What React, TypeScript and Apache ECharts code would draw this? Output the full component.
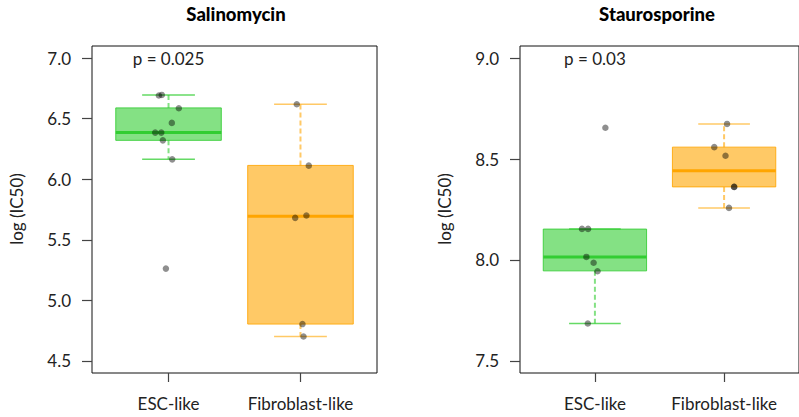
import React, { useEffect, useRef } from "react";
import * as echarts from "echarts";

// ---------- data ----------
const groups = ["ESC-like", "Fibroblast-like"];
const panelTitles = ["Salinomycin", "Staurosporine"];
const pLabels = ["p = 0.025", "p = 0.03"];
const yAxisName = "log (IC50)";

const salTicks = [4.5, 5.0, 5.5, 6.0, 6.5, 7.0];
const stauTicks = [7.5, 8.0, 8.5, 9.0];

// box stats: [lower whisker, Q1, median, Q3, upper whisker]
const salEscBox = [6.164, 6.321, 6.385, 6.589, 6.696];
const salFibBox = [4.701, 4.804, 5.695, 6.114, 6.619];
const stauEscBox = [7.685, 7.946, 8.015, 8.153, 8.153];
const stauFibBox = [8.258, 8.362, 8.442, 8.559, 8.674];

// individual observations (log IC50) and their jittered group positions
const salEscVals = [6.691, 6.696, 6.586, 6.465, 6.385, 6.385, 6.321, 6.164, 5.262];
const salEscJit = [0.927, 0.949, 1.078, 1.025, 0.899, 0.945, 0.957, 1.028, 0.98];
const salFibVals = [6.619, 6.112, 5.681, 5.7, 4.804, 4.701];
const salFibJit = [1.972, 2.063, 1.96, 2.045, 2.015, 2.023];
const stauEscVals = [8.154, 8.154, 8.015, 7.986, 7.944, 7.685, 8.655];
const stauEscJit = [0.9, 0.947, 0.934, 0.99, 1.02, 0.945, 1.081];
const stauFibVals = [8.674, 8.559, 8.516, 8.362, 8.362, 8.258];
const stauFibJit = [2.023, 1.924, 2.011, 2.079, 2.077, 2.038];

// ---------- styles ----------
const FONT = "Lato, 'Open Sans', sans-serif";
const boxColors = [
  { fill: "rgba(50,205,50,0.6)", stroke: "rgba(50,205,50,0.85)", med: "#32CD32", whisk: "rgba(50,205,50,0.6)", cap: "rgba(50,205,50,0.75)" },
  { fill: "rgba(255,165,0,0.6)", stroke: "rgba(255,165,0,0.85)", med: "#FFA500", whisk: "rgba(255,165,0,0.6)", cap: "rgba(255,165,0,0.6)" },
];

const grids = [
  { left: 92, top: 46, width: 285, height: 327 },
  { left: 520, top: 46, width: 285, height: 327 },
];

function boxRender(params: any, api: any) {
  const x = api.value(0);
  const lo = api.value(1), q1 = api.value(2), med = api.value(3), q3 = api.value(4), hi = api.value(5);
  const c = boxColors[params.dataIndex];
  const halfW = api.size([0.8, 0])[0] / 2;
  const capHalf = api.size([0.4, 0])[0] / 2;
  const pLo = api.coord([x, lo]);
  const pQ1 = api.coord([x, q1]);
  const pMed = api.coord([x, med]);
  const pQ3 = api.coord([x, q3]);
  const pHi = api.coord([x, hi]);
  const cx = pMed[0];
  return {
    type: "group",
    children: [
      { type: "line", shape: { x1: cx, y1: pQ3[1], x2: cx, y2: pHi[1] }, style: { stroke: c.whisk, lineWidth: 2, lineDash: [5, 3] } },
      { type: "line", shape: { x1: cx, y1: pQ1[1], x2: cx, y2: pLo[1] }, style: { stroke: c.whisk, lineWidth: 2, lineDash: [5, 3] } },
      { type: "line", shape: { x1: cx - capHalf, y1: pHi[1], x2: cx + capHalf, y2: pHi[1] }, style: { stroke: c.cap, lineWidth: 1.5 } },
      { type: "line", shape: { x1: cx - capHalf, y1: pLo[1], x2: cx + capHalf, y2: pLo[1] }, style: { stroke: c.cap, lineWidth: 1.5 } },
      { type: "rect", shape: { x: cx - halfW, y: pQ3[1], width: halfW * 2, height: pQ1[1] - pQ3[1] }, style: { fill: c.fill, stroke: c.stroke, lineWidth: 1 } },
      { type: "line", shape: { x1: cx - halfW, y1: pMed[1], x2: cx + halfW, y2: pMed[1] }, style: { stroke: c.med, lineWidth: 3 } },
    ],
  };
}

function pRender(params: any, api: any) {
  const p = api.coord([api.value(0), api.value(1)]);
  return {
    type: "text",
    x: p[0],
    y: p[1],
    style: { text: pLabels[params.seriesIndex === 1 ? 0 : 1], align: "center", verticalAlign: "middle", fontSize: 17, fontFamily: FONT, fill: "#222" },
  };
}

export default function App() {
  const ref = useRef<HTMLDivElement>(null);
  useEffect(() => {
    document.body.style.margin = "0";
    const chart = echarts.init(ref.current!, null, { renderer: "svg" });
    const tickLabelStyle = { fontSize: 17, fontFamily: FONT, color: "#222" };
    const xAxis = [0, 1].map((i) => ({
      type: "value",
      gridIndex: i,
      min: 0.42,
      max: 2.58,
      axisLine: { show: false, onZero: false },
      splitLine: { show: false },
      axisTick: { show: true, length: 9, customValues: [1, 2], lineStyle: { color: "#444", width: 1.2 } },
      axisLabel: { ...tickLabelStyle, margin: 22, customValues: [1, 2], formatter: (v: number) => groups[Math.round(v) - 1] },
    }));
    const yAxis = [
      { min: 4.4, max: 7.1, ticks: salTicks },
      { min: 7.44, max: 9.06, ticks: stauTicks },
    ].map((a, i) => ({
      type: "value",
      gridIndex: i,
      min: a.min,
      max: a.max,
      axisLine: { show: false, onZero: false },
      splitLine: { show: false },
      axisTick: { show: true, length: 10, customValues: a.ticks, lineStyle: { color: "#444", width: 1.2 } },
      axisLabel: { ...tickLabelStyle, margin: 21, customValues: a.ticks, formatter: (v: number) => v.toFixed(1) },
    }));

    const scatter = (gi: number, jit: number[], vals: number[]) => ({
      type: "scatter",
      xAxisIndex: gi,
      yAxisIndex: gi,
      symbolSize: 6.5,
      itemStyle: { color: "rgba(0,0,0,0.55)" },
      data: vals.map((v, k) => [jit[k], v]),
      z: 5,
    });

    const titleStyle = { align: "center", verticalAlign: "middle", fontSize: 18.5, fontWeight: 900, fontFamily: FONT, fill: "#000" };
    const nameStyle = { text: yAxisName, align: "center", verticalAlign: "middle", fontSize: 17, fontFamily: FONT, fill: "#222" };

    chart.setOption({
      animation: false,
      grid: grids.map((g) => ({ ...g, show: true, borderColor: "#111", borderWidth: 1, backgroundColor: "transparent" })),
      xAxis,
      yAxis,
      graphic: [
        { type: "text", x: 236, y: 14, style: { ...titleStyle, text: panelTitles[0] } },
        { type: "text", x: 657, y: 14, style: { ...titleStyle, text: panelTitles[1] } },
        { type: "text", x: 16, y: 209, rotation: Math.PI / 2, style: nameStyle },
        { type: "text", x: 444, y: 209, rotation: Math.PI / 2, style: nameStyle },
      ],
      series: [
        {
          type: "custom",
          xAxisIndex: 0,
          yAxisIndex: 0,
          renderItem: boxRender,
          encode: { x: 0, y: [1, 2, 3, 4, 5] },
          data: [[1, ...salEscBox], [2, ...salFibBox]],
        },
        {
          type: "custom",
          xAxisIndex: 0,
          yAxisIndex: 0,
          renderItem: pRender,
          data: [[1, salTicks[salTicks.length - 1]]],
        },
        {
          type: "custom",
          xAxisIndex: 1,
          yAxisIndex: 1,
          renderItem: boxRender,
          encode: { x: 0, y: [1, 2, 3, 4, 5] },
          data: [[1, ...stauEscBox], [2, ...stauFibBox]],
        },
        {
          type: "custom",
          xAxisIndex: 1,
          yAxisIndex: 1,
          renderItem: pRender,
          data: [[1, stauTicks[stauTicks.length - 1]]],
        },
        scatter(0, salEscJit, salEscVals),
        scatter(0, salFibJit, salFibVals),
        scatter(1, stauEscJit, stauEscVals),
        scatter(1, stauFibJit, stauFibVals),
      ],
    });
    return () => chart.dispose();
  }, []);
  return <div ref={ref} style={{ position: "absolute", left: 0, top: 0, width: 799, height: 417 }} />;
}
